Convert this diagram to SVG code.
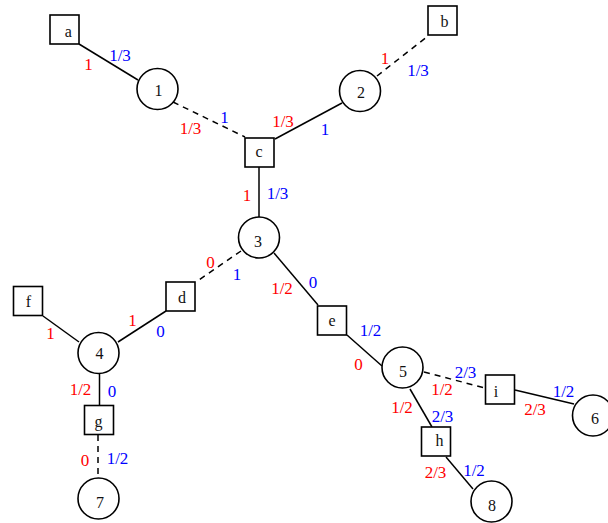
<svg xmlns="http://www.w3.org/2000/svg" width="608" height="523" viewBox="0 0 608 523">
<style>
.bg{fill:#fff}
.n{fill:#fff;stroke:#000;stroke-width:1.6}
.t{font-family:"Liberation Serif","Times New Roman",serif;font-size:16px;fill:#111;text-anchor:middle}
.e{stroke:#000;stroke-width:1.5;fill:none}
.d{stroke-dasharray:6,5}
.r{font-family:"Liberation Serif","Times New Roman",serif;font-size:17px;fill:#ff0000;text-anchor:middle}
.b{font-family:"Liberation Serif","Times New Roman",serif;font-size:17px;fill:#0000ff;text-anchor:middle}
</style>
<rect class="bg" width="608" height="523"/>
<g id="connectors">
<line class="e" x1="79" y1="44" x2="138" y2="80"/>
<line class="e d" x1="173" y1="102" x2="245" y2="137"/>
<line class="e" x1="275" y1="139" x2="342" y2="103"/>
<line class="e d" x1="377" y1="76" x2="428" y2="36"/>
<line class="e" x1="259" y1="167" x2="259" y2="217"/>
<line class="e d" x1="241" y1="251" x2="196" y2="282"/>
<line class="e" x1="274" y1="253" x2="318" y2="305"/>
<line class="e" x1="166" y1="311" x2="118" y2="342"/>
<line class="e" x1="43" y1="316" x2="79" y2="342"/>
<line class="e" x1="99.5" y1="374" x2="99.5" y2="405"/>
<line class="e d" x1="98" y1="435" x2="98" y2="478"/>
<line class="e" x1="347" y1="335" x2="382" y2="366"/>
<line class="e d" x1="424" y1="372" x2="485" y2="388"/>
<line class="e" x1="515" y1="390" x2="574" y2="404"/>
<line class="e" x1="410" y1="389" x2="432" y2="427"/>
<line class="e" x1="446" y1="457" x2="473" y2="489"/>
</g>
<g id="edge-labels">
<text class="r" x="88.5" y="70">1</text><text class="b" x="120" y="61">1/3</text>
<text class="r" x="190.5" y="134">1/3</text><text class="b" x="224.5" y="123">1</text>
<text class="r" x="283" y="127">1/3</text><text class="b" x="325" y="135">1</text>
<text class="r" x="385" y="64">1</text><text class="b" x="418" y="76">1/3</text>
<text class="r" x="247" y="201">1</text><text class="b" x="277.5" y="199">1/3</text>
<text class="r" x="210.5" y="268">0</text><text class="b" x="237" y="280">1</text>
<text class="r" x="282" y="294">1/2</text><text class="b" x="313" y="288">0</text>
<text class="r" x="132.5" y="326">1</text><text class="b" x="160.5" y="337">0</text>
<text class="r" x="50.5" y="339">1</text>
<text class="r" x="80.5" y="395">1/2</text><text class="b" x="112" y="397">0</text>
<text class="r" x="85" y="466">0</text><text class="b" x="117.5" y="464">1/2</text>
<text class="r" x="358.5" y="370">0</text><text class="b" x="370.5" y="336">1/2</text>
<text class="r" x="442" y="395">1/2</text><text class="b" x="465.5" y="378">2/3</text>
<text class="r" x="535" y="415">2/3</text><text class="b" x="563.5" y="397">1/2</text>
<text class="r" x="402" y="413">1/2</text><text class="b" x="442.5" y="422">2/3</text>
<text class="r" x="435.5" y="478">2/3</text><text class="b" x="474" y="476">1/2</text>
</g>
<g id="node-a"><rect class="n" x="50" y="15" width="29" height="29"/><text class="t" x="68.3" y="37">a</text></g>
<g id="node-b"><rect class="n" x="428" y="6" width="29" height="29"/><text class="t" x="444.5" y="27.3">b</text></g>
<g id="node-c"><rect class="n" x="245" y="138" width="29" height="29"/><text class="t" x="259" y="157">c</text></g>
<g id="node-d"><rect class="n" x="166" y="282" width="29" height="29"/><text class="t" x="182" y="303.3">d</text></g>
<g id="node-e"><rect class="n" x="317.5" y="306" width="29" height="29"/><text class="t" x="332" y="325.7">e</text></g>
<g id="node-f"><rect class="n" x="13.5" y="286.5" width="29" height="29"/><text class="t" x="28.5" y="306.7">f</text></g>
<g id="node-g"><rect class="n" x="84.5" y="405.5" width="29" height="29"/><text class="t" x="98.5" y="426.7">g</text></g>
<g id="node-h"><rect class="n" x="421.5" y="427" width="29" height="29"/><text class="t" x="439.5" y="446">h</text></g>
<g id="node-i"><rect class="n" x="485.5" y="375" width="29" height="29"/><text class="t" x="496" y="396.7">i</text></g>
<g id="node-1"><circle class="n" cx="157.5" cy="89" r="20.5"/><text class="t" x="158.5" y="96">1</text></g>
<g id="node-2"><circle class="n" cx="360" cy="91" r="20.5"/><text class="t" x="361" y="97.7">2</text></g>
<g id="node-3"><circle class="n" cx="259" cy="237.5" r="20.5"/><text class="t" x="258" y="246.7">3</text></g>
<g id="node-4"><circle class="n" cx="98.5" cy="353" r="20.5"/><text class="t" x="99.5" y="359">4</text></g>
<g id="node-5"><circle class="n" cx="402.5" cy="367.5" r="20.5"/><text class="t" x="403" y="376.7">5</text></g>
<g id="node-6"><circle class="n" cx="593" cy="415.5" r="20.5"/><text class="t" x="595" y="424">6</text></g>
<g id="node-7"><circle class="n" cx="98.5" cy="498.5" r="20.5"/><text class="t" x="100" y="508">7</text></g>
<g id="node-8"><circle class="n" cx="491.5" cy="501.5" r="20.5"/><text class="t" x="492" y="510.7">8</text></g>
</svg>
